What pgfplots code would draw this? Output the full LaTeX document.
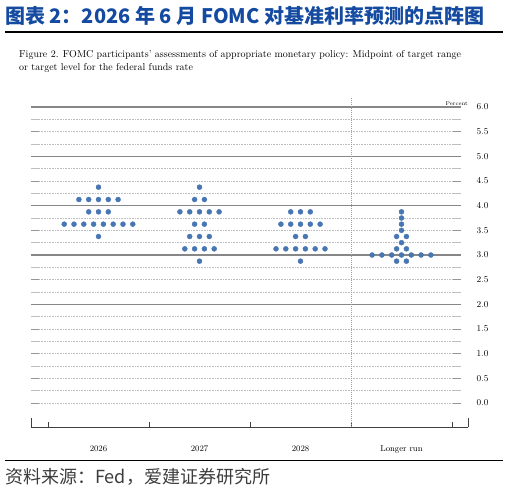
\documentclass[border=0pt]{standalone}
\usepackage{pgfplots}
\pgfplotsset{compat=1.18}
\usepackage{fontspec}
\newfontfamily\cjk{Noto Sans CJK SC}
\definecolor{titleblue}{RGB}{20,75,160}
\definecolor{dotblue}{RGB}{72,118,178}
\definecolor{srcgray}{RGB}{60,60,60}
\definecolor{gridlight}{RGB}{190,190,190}
\definecolor{gridmid}{RGB}{150,150,150}
\definecolor{gridsolid}{RGB}{135,135,135}
\begin{document}
\begin{tikzpicture}
\useasboundingbox (0,0) rectangle (509pt,-501pt);
% title
\node[anchor=west, inner sep=0, text=titleblue, font=\cjk\bfseries\fontsize{20}{21}\selectfont] at (5pt,-15.5pt) {图表 2：2026 年 6 月 FOMC 对基准利率预测的点阵图};
\draw[black, line width=1.8pt] (5pt,-32pt) -- (503pt,-32pt);
% caption
\node[anchor=base west, inner sep=0, font=\fontsize{10}{11}\selectfont] at (19pt,-57.5pt) {Figure 2. FOMC participants' assessments of appropriate monetary policy: Midpoint of target range};
\node[anchor=base west, inner sep=0, font=\fontsize{10}{11}\selectfont] at (19pt,-70.5pt) {or target level for the federal funds rate};
% source
\draw[black, line width=1.2pt] (5pt,-460.5pt) -- (503pt,-460.5pt);
\node[anchor=west, inner sep=0, text=srcgray, font=\cjk\fontsize{18}{20}\selectfont] at (5pt,-476.5pt) {资料来源：Fed，爱建证券研究所};

\begin{axis}[
  at={(31pt,-427pt)}, anchor=south west,
  scale only axis, width=437pt, height=320pt,
  xmin=0.3317, xmax=4.6584, ymin=-0.4865, ymax=6,
  clip=false,
  axis x line=bottom, axis y line=right,
  axis line style={-},
  x axis line style={black!75, line width=0.6pt},
  y axis line style={draw=none},
  xtick={1,2,3,4},
  xticklabels={2026,2027,2028,Longer run},
  xtick style={draw=none},
  xticklabel style={font=\fontsize{8.5}{10}\selectfont, text height=6pt, text depth=2pt, yshift=-13pt},
  extra x ticks={0.5,1.5,2.5,3.5,4.5},
  extra x tick labels={},
  extra x tick style={tick align=inside, major tick length=5pt, xtick style={draw=black!75, line width=0.6pt}},
  ytick={0,0.5,...,6},
  ytick style={draw=none},
  yticklabel style={font=\fontsize{9.5}{10}\selectfont, /pgf/number format/fixed, /pgf/number format/fixed zerofill, /pgf/number format/precision=1, xshift=3pt},
]
% dotted grid lines
\pgfplotsinvokeforeach{0,0.25,0.5,0.75,1,1.25,1.5,1.75,2.25,2.5,2.75,3.25,3.5,3.75,4.25,4.5,4.75,5.25,5.5,5.75}{
  \draw[gridlight, line width=0.6pt, dash pattern=on 0.7pt off 0.9pt] (axis cs:0.3317,#1) -- (axis cs:4.589,#1);
  \draw[gridlight, line width=1pt] (axis cs:0.3317,#1) -- (axis cs:0.4109,#1);
  \draw[gridlight, line width=1pt] (axis cs:4.5098,#1) -- (axis cs:4.589,#1);
}
\pgfplotsinvokeforeach{0,0.5,1,1.5,2.5,3.5,4.5,5.5}{
  \draw[gridmid, line width=1pt] (axis cs:0.3317,#1) -- (axis cs:0.4109,#1);
  \draw[gridmid, line width=1pt] (axis cs:4.5098,#1) -- (axis cs:4.589,#1);
}
\pgfplotsinvokeforeach{2,3,4,5,6}{
  \draw[gridsolid, line width=1.1pt] (axis cs:0.3317,#1) -- (axis cs:4.589,#1);
}
% separator
\draw[gray!75, line width=0.8pt, dash pattern=on 1pt off 1pt] (axis cs:3.5,-0.4865) -- (axis cs:3.5,6.2);
% short frame ends
\draw[black!75, line width=0.6pt] (axis cs:0.3317,-0.4865) -- (axis cs:0.3317,-0.3041);
\draw[black!75, line width=0.6pt] (axis cs:4.6584,-0.4865) -- (axis cs:4.6584,-0.3041);
\node[anchor=south east, inner sep=0, font=\fontsize{5.5}{6}\selectfont] at (axis cs:4.6584,6) [yshift=1.5pt] {Percent};
% dots
\addplot[only marks, mark=*, mark size=2.5pt, color=dotblue, mark options={draw=dotblue, fill=dotblue}] coordinates {
(1,4.375)
(0.806,4.125)(0.903,4.125)(1,4.125)(1.097,4.125)(1.194,4.125)
(0.903,3.875)(1,3.875)(1.097,3.875)
(0.6605,3.625)(0.7575,3.625)(0.8545,3.625)(0.9515,3.625)(1.0485,3.625)(1.1455,3.625)(1.2425,3.625)(1.3395,3.625)
(1,3.375)
(2,4.375)
(1.9515,4.125)(2.0485,4.125)
(1.806,3.875)(1.903,3.875)(2,3.875)(2.097,3.875)(2.194,3.875)
(1.9515,3.625)(2.0485,3.625)
(1.903,3.375)(2,3.375)(2.097,3.375)
(1.8545,3.125)(1.9515,3.125)(2.0485,3.125)(2.1455,3.125)
(2,2.875)
(2.903,3.875)(3,3.875)(3.097,3.875)
(2.806,3.625)(2.903,3.625)(3,3.625)(3.097,3.625)(3.194,3.625)
(2.9515,3.375)(3.0485,3.375)
(2.7575,3.125)(2.8545,3.125)(2.9515,3.125)(3.0485,3.125)(3.1455,3.125)(3.2425,3.125)
(3,2.875)
(4,3.875)(4,3.75)(4,3.625)(4,3.5)
(3.9515,3.375)(4.0485,3.375)
(4,3.25)
(3.9515,3.125)(4.0485,3.125)
(3.709,3)(3.806,3)(3.903,3)(4,3)(4.097,3)(4.194,3)(4.291,3)
(3.9515,2.875)(4.0485,2.875)
};
\end{axis}
\end{tikzpicture}
\end{document}
